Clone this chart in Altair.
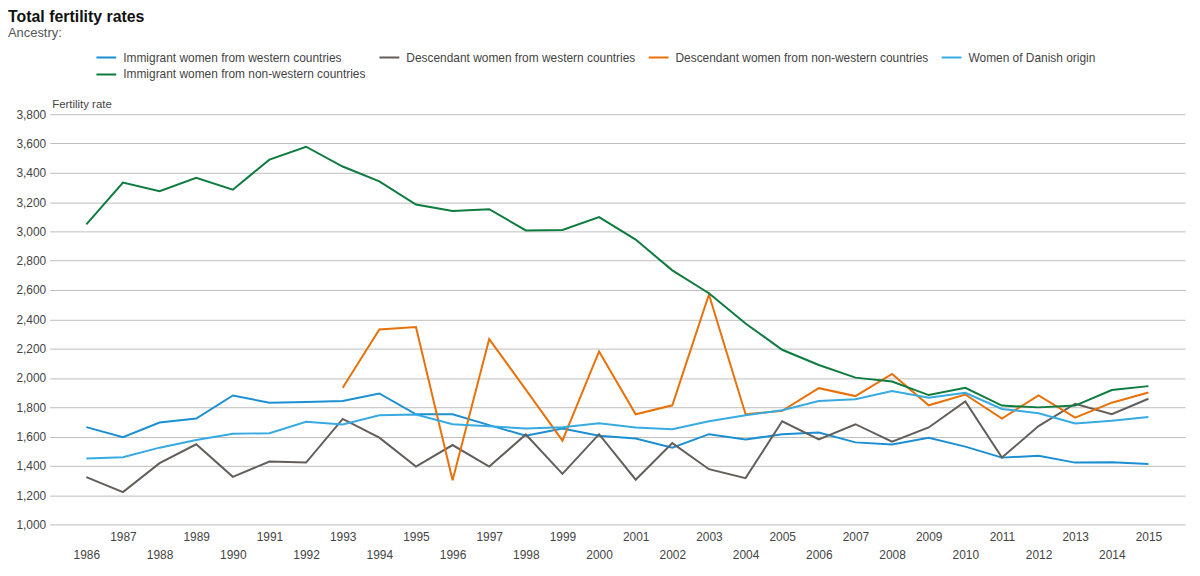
import altair as alt
import pandas as pd

years = list(range(1986, 2016))

series_names = [
    "Immigrant women from western countries",
    "Descendant women from western countries",
    "Descendant women from non-western countries",
    "Women of Danish origin",
    "Immigrant women from non-western countries",
]
series_colors = ["#1b8fd2", "#625e5a", "#e8710a", "#38aae2", "#0e7b3f"]

immigrant_western = [1664, 1596, 1696, 1723, 1880, 1831, 1836, 1843, 1894, 1752,
                     1752, 1678, 1605, 1655, 1605, 1587, 1524, 1616, 1580, 1615,
                     1628, 1560, 1546, 1592, 1531, 1456, 1468, 1422, 1425, 1413]
descendant_western = [1323, 1221, 1418, 1547, 1325, 1429, 1422, 1720, 1592, 1395,
                      1542, 1395, 1614, 1345, 1616, 1305, 1555, 1377, 1316, 1704,
                      1580, 1684, 1565, 1662, 1840, 1456, 1671, 1824, 1752, 1858]
descendant_nonwestern = [None, None, None, None, None, None, None, 1933, 2330, 2348,
                         1301, 2265, 1920, 1572, 2181, 1752, 1813, 2569, 1752, 1775,
                         1930, 1876, 2027, 1813, 1887, 1723, 1880, 1729, 1831, 1901]
danish_origin = [1450, 1459, 1524, 1576, 1619, 1623, 1700, 1682, 1745, 1750,
                 1684, 1670, 1654, 1664, 1691, 1662, 1650, 1704, 1745, 1779,
                 1842, 1854, 1910, 1865, 1899, 1788, 1759, 1689, 1707, 1734]
immigrant_nonwestern = [3048, 3333, 3274, 3366, 3285, 3490, 3578, 3443, 3341, 3183,
                        3140, 3152, 3007, 3010, 3098, 2944, 2734, 2578, 2371, 2192,
                        2088, 2002, 1975, 1883, 1933, 1811, 1799, 1811, 1917, 1944]

y_ticks = list(range(1000, 3801, 200))

all_values = [immigrant_western, descendant_western, descendant_nonwestern,
              danish_origin, immigrant_nonwestern]
rows = []
for name, vals in zip(series_names, all_values):
    for yr, v in zip(years, vals):
        if v is not None:
            rows.append({"Year": yr, "Rate": v, "Ancestry": name})
df = pd.DataFrame(rows)

txt = "#444444"

chart = alt.Chart(df).mark_line(strokeWidth=2).encode(
    x=alt.X(
        "Year:Q",
        scale=alt.Scale(domain=[1985, 2016], nice=False, zero=False),
        axis=alt.Axis(
            values=years, format="d", title=None, grid=False, domain=False,
            ticks=False, labelColor=txt, labelFontSize=12, labelFlush=False,
            labelOverlap=False,
            labelPadding={"condition": {"test": "datum.value % 2 === 0", "value": 25}, "value": 7},
        ),
    ),
    y=alt.Y(
        "Rate:Q",
        scale=alt.Scale(domain=[1000, 3800], nice=False, zero=False),
        axis=alt.Axis(
            values=y_ticks, format=",d", title="Fertility rate", grid=True,
            gridColor="#bdbdbd", gridWidth=1, domain=False, ticks=False,
            labelColor=txt, labelFontSize=12, labelPadding=4,
            titleAngle=0, titleAlign="left", titleBaseline="middle",
            titleX=2, titleY=-10, titleFontWeight="normal", titleFontSize=11.5,
            titleColor=txt,
        ),
    ),
    color=alt.Color(
        "Ancestry:N",
        scale=alt.Scale(domain=series_names, range=series_colors),
        legend=alt.Legend(
            title=None, orient="none", legendX=46, legendY=-64, columns=4,
            direction="horizontal",
            symbolType="stroke", symbolSize=400, symbolStrokeWidth=2,
            labelFontSize=12, labelColor=txt, labelOffset=6,
            columnPadding=12, rowPadding=3, clipHeight=14, labelLimit=400,
        ),
    ),
    order=alt.Order("Year:Q"),
).properties(
    width=1143,
    height=413,
    title=alt.TitleParams(
        "Total fertility rates", subtitle="Ancestry:", anchor="start",
        frame="group",
        fontSize=16, fontWeight="bold", color="#111111",
        subtitleFontSize=13, subtitleColor="#555555", subtitlePadding=2,
        dx=-42, dy=-11, offset=0,
    ),
    autosize=alt.AutoSizeParams(type="none"),
    padding={"left": 42, "top": 105, "right": 7, "bottom": 50},
).configure(
    font="Arial, Liberation Sans, sans-serif",
).configure_view(
    stroke=None,
)

chart.save("out.html", embed_options={"renderer": "svg", "actions": False})
